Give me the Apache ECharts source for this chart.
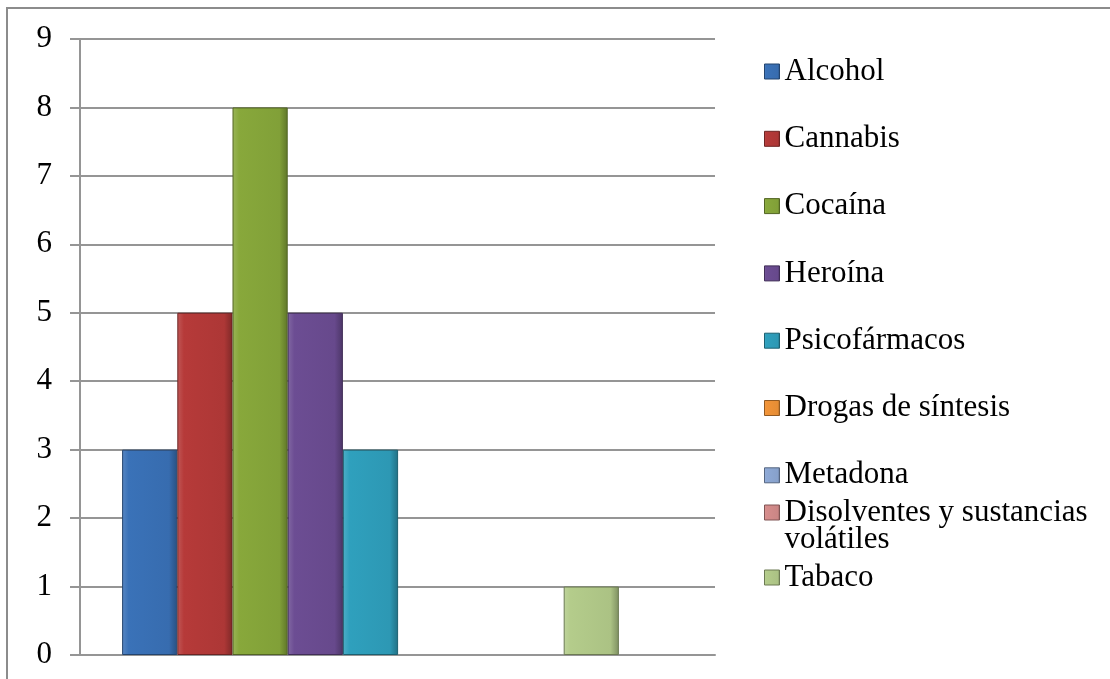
<!DOCTYPE html>
<html>
<head>
<meta charset="utf-8">
<script src="https://cdn.jsdelivr.net/npm/echarts@6/dist/echarts.min.js"></script>
<style>
  html, body { margin: 0; padding: 0; background: #fff; }
  #chart { width: 1110px; height: 679px; }
</style>
</head>
<body>
<div id="chart"></div>
<script>
// datos
const sustancias = ['Alcohol', 'Cannabis', 'Cocaína', 'Heroína', 'Psicofármacos',
  'Drogas de síntesis', 'Metadona', 'Disolventes y sustancias volátiles', 'Tabaco'];
const valores = [3, 5, 8, 5, 3, 0, 0, 0, 1];
const colores = ['#3a72b8', '#b63a39', '#88a83b', '#6c4d93', '#2fa0bd',
  '#f29438', '#8ea9d6', '#d68d8c', '#b4cc8b'];
const yTicks = [0, 1, 2, 3, 4, 5, 6, 7, 8, 9];

const font = 'Liberation Serif, Times New Roman, serif';

// sombreado tipo bisel (aclarar / oscurecer)
function shade(hex, f) {
  const n = parseInt(hex.slice(1), 16);
  let r = (n >> 16) & 255, g = (n >> 8) & 255, b = n & 255;
  if (f > 0) { r += (255 - r) * f; g += (255 - g) * f; b += (255 - b) * f; }
  else { r *= 1 + f; g *= 1 + f; b *= 1 + f; }
  return 'rgb(' + Math.round(r) + ',' + Math.round(g) + ',' + Math.round(b) + ')';
}
function relleno(c) {
  return new echarts.graphic.LinearGradient(0, 0, 1, 0, [
    { offset: 0, color: shade(c, 0.15) },
    { offset: 0.12, color: c },
    { offset: 0.85, color: shade(c, -0.05) },
    { offset: 1, color: shade(c, -0.3) }
  ]);
}

const series = sustancias.map((s, i) => ({
  name: s,
  type: 'bar',
  xAxisIndex: 1,
  yAxisIndex: 1,
  barGap: '0%',
  barCategoryGap: '14.5%',
  data: [valores[i]],
  itemStyle: {
    color: relleno(colores[i]),
    borderColor: shade(colores[i], -0.4),
    borderWidth: valores[i] > 0 ? 1 : 0
  }
}));

const leyendaBase = {
  orient: 'vertical',
  left: 764,
  padding: 0,
  itemWidth: 15,
  itemHeight: 15,
  icon: 'rect',
  selectedMode: false,
  itemStyle: { borderWidth: 1 },
  textStyle: { fontFamily: font, fontSize: 31, lineHeight: 27, color: '#000' }
};

const gris = '#959595';

const option = {
  animation: false,
  backgroundColor: '#fff',
  graphic: [{
    type: 'rect',
    shape: { x: 7, y: 8, width: 1200, height: 800 },
    style: { fill: 'none', stroke: '#8c8c8c', lineWidth: 2 },
    silent: true
  }],
  legend: [
    Object.assign({}, leyendaBase, { top: 56, itemGap: 36.3, data: sustancias.slice(0, 7) }),
    Object.assign({}, leyendaBase, {
      top: 470,
      data: [sustancias[7]],
      // línea vacía arriba para que la primera línea quede a la altura del icono
      formatter: () => '\nDisolventes y sustancias\nvolátiles'
    }),
    Object.assign({}, leyendaBase, { top: 562, data: [sustancias[8]] })
  ],
  grid: [
    { left: 80, right: 395, top: 39, bottom: 24 },
    { left: 80, right: 449, top: 39, bottom: 24 }
  ],
  xAxis: [
    {
      type: 'category', gridIndex: 0, data: [''],
      axisLine: { show: true, lineStyle: { color: gris, width: 2 } },
      axisTick: { show: false }, axisLabel: { show: false }
    },
    {
      type: 'category', gridIndex: 1, data: [''],
      axisLine: { show: false }, axisTick: { show: false }, axisLabel: { show: false }
    }
  ],
  yAxis: [
    {
      type: 'value', gridIndex: 0, min: yTicks[0], max: yTicks[yTicks.length - 1], interval: 1,
      axisLine: { show: true, lineStyle: { color: gris, width: 2 } },
      axisTick: { show: true, length: 10, lineStyle: { color: gris, width: 2 } },
      splitLine: { show: true, lineStyle: { color: gris, width: 2 } },
      axisLabel: { fontFamily: font, fontSize: 31, color: '#000', margin: 28 }
    },
    {
      type: 'value', gridIndex: 1, min: 0, max: 9, interval: 1, show: false,
      splitLine: { show: false }
    }
  ],
  series: series
};

const chart = echarts.init(document.getElementById('chart'));
chart.setOption(option);
</script>
</body>
</html>
